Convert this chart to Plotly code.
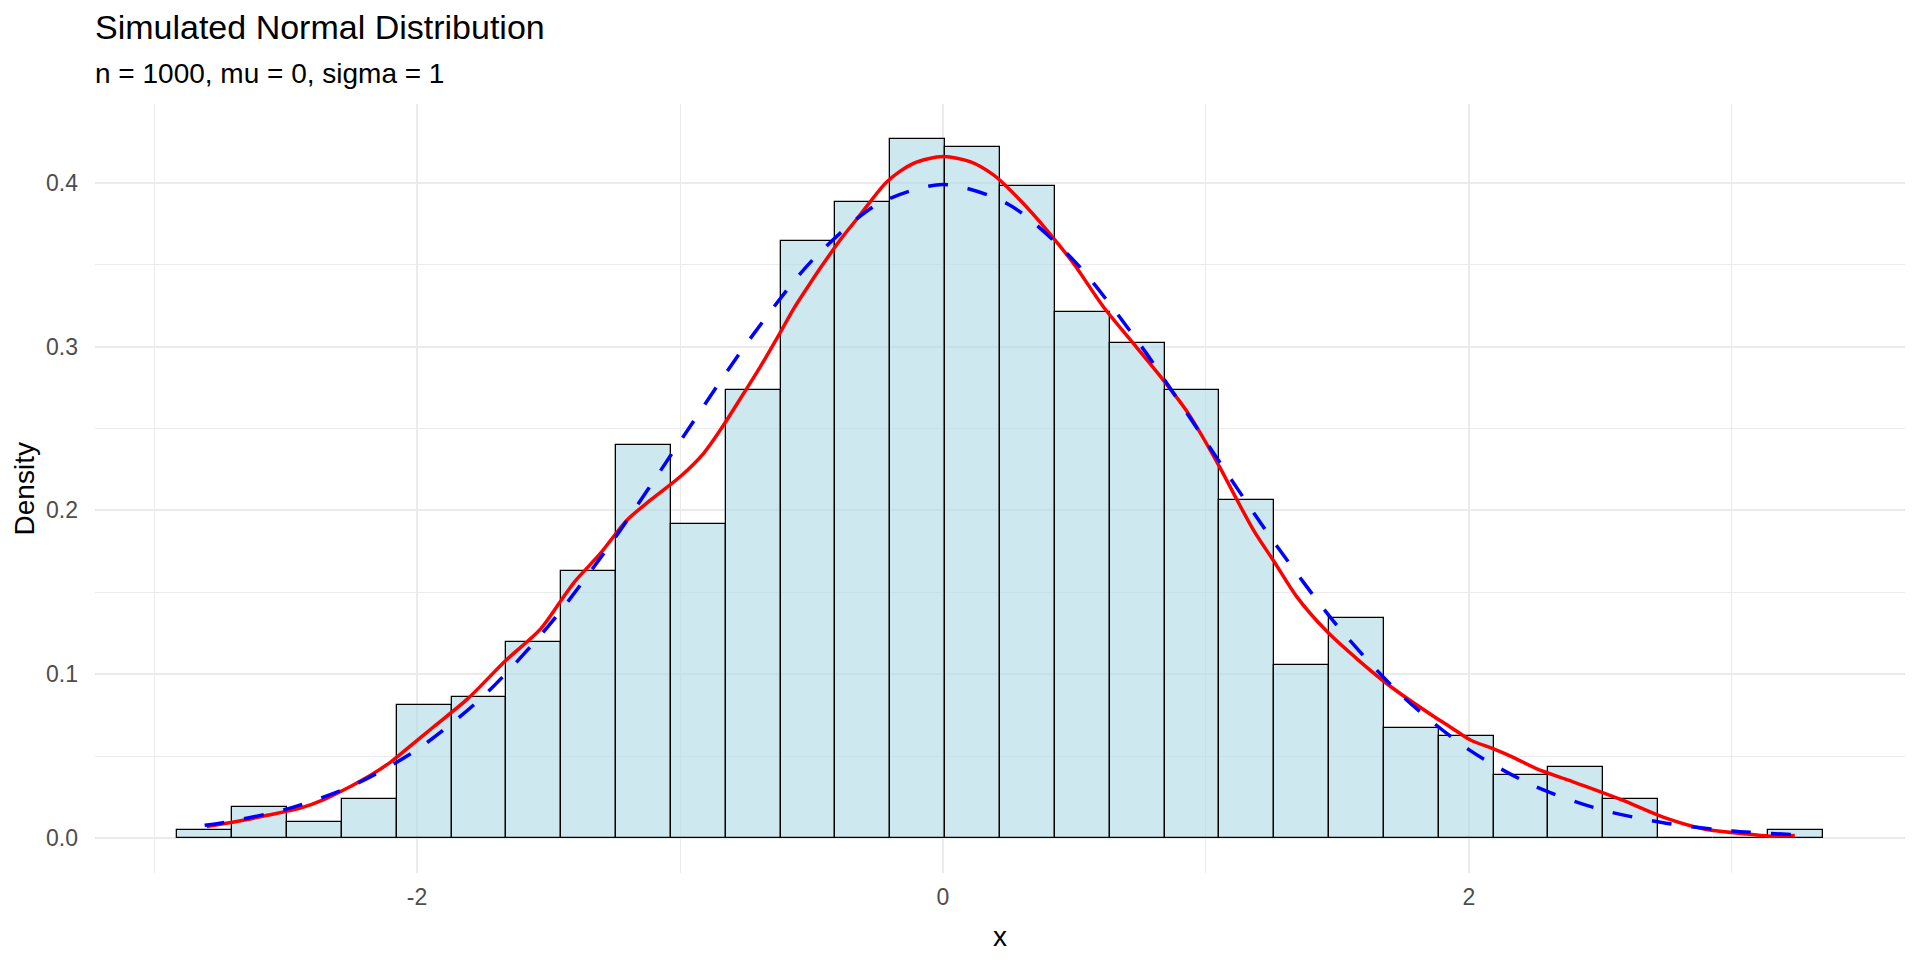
import numpy as np
import plotly.graph_objects as go

# histogram: 30 bins (ggplot default), counts (n = 1000)
n_obs = 1000
bin_left = -2.912
bin_width = 0.2086
counts = [1, 4, 2, 5, 17, 18, 25, 34, 50, 40,
          57, 76, 81, 89, 88, 83, 67, 63, 57, 43,
          22, 28, 14, 13, 8, 9, 5, 0, 0, 1]

# kernel density estimate (red)
kde_x = [-2.80, -2.697, -2.570, -2.444, -2.355, -2.25, -2.177, -2.101, -2.069, -1.938,
         -1.807, -1.662, -1.531, -1.444, -1.398, -1.303, -1.202, -1.113, -1.0, -0.911,
         -0.847, -0.758, -0.695, -0.619, -0.568, -0.505, -0.467, -0.391, -0.315, -0.213,
         -0.112, 0.002, 0.103, 0.192, 0.293, 0.395, 0.496, 0.610, 0.724, 0.838,
         0.933, 1.052, 1.119, 1.181, 1.264, 1.346, 1.456, 1.581, 1.705, 1.870,
         1.928, 2.008, 2.092, 2.173, 2.257, 2.376, 2.434, 2.587, 2.739, 2.891,
         3.043, 3.144, 3.24]
kde_y = [0.0071, 0.0098, 0.0139, 0.0183, 0.0235, 0.0318, 0.0383, 0.0464, 0.0505, 0.0678,
         0.0851, 0.1085, 0.1275, 0.1470, 0.1570, 0.1737, 0.1940, 0.2062, 0.2205, 0.2347,
         0.2490, 0.2714, 0.2876, 0.3085, 0.3230, 0.3386, 0.3477, 0.3650, 0.3803, 0.4006,
         0.4118, 0.4159, 0.4128, 0.4047, 0.3894, 0.3711, 0.3508, 0.3243, 0.3019, 0.2795,
         0.2592, 0.2266, 0.2062, 0.1880, 0.1676, 0.1472, 0.1268, 0.1085, 0.0922, 0.0739,
         0.0680, 0.0597, 0.0546, 0.0490, 0.0424, 0.0355, 0.0322, 0.0230, 0.0128, 0.0057,
         0.0027, 0.0012, 0.0016]

# theoretical normal density (blue dashed)
norm_x = [-2.808, -2.75, -2.5, -2.25, -2.0, -1.75, -1.5, -1.25, -1.0, -0.75, -0.5, -0.25, 0.0,
          0.25, 0.5, 0.75, 1.0, 1.25, 1.5, 1.75, 2.0, 2.25, 2.5, 2.75, 3.0, 3.241]
norm_y = [0.0078, 0.0091, 0.0175, 0.0317, 0.0540, 0.0863, 0.1295, 0.1827, 0.2420, 0.3011, 0.3521, 0.3867, 0.3989,
          0.3867, 0.3521, 0.3011, 0.2420, 0.1827, 0.1295, 0.0863, 0.0540, 0.0317, 0.0175, 0.0091, 0.0044, 0.0021]

x_ticks = [-2, 0, 2]
x_tick_labels = ["-2", "0", "2"]
y_ticks = [0.0, 0.1, 0.2, 0.3, 0.4]
y_tick_labels = ["0.0", "0.1", "0.2", "0.3", "0.4"]

centers = bin_left + bin_width * (np.arange(len(counts)) + 0.5)
density = np.array(counts) / (n_obs * bin_width)

FONT = "Liberation Sans, Arial, sans-serif"

fig = go.Figure()

fig.add_trace(go.Bar(
    x=centers,
    y=density,
    width=bin_width,
    marker=dict(color="rgba(173,216,230,0.6)", line=dict(color="black", width=1.3)),
    hoverinfo="skip",
))

fig.add_trace(go.Scatter(
    x=kde_x, y=kde_y,
    mode="lines",
    line=dict(color="red", width=3.5, shape="spline", smoothing=0.8),
))

fig.add_trace(go.Scatter(
    x=norm_x, y=norm_y,
    mode="lines",
    line=dict(color="blue", width=3.5, dash="20px,20px", shape="spline", smoothing=0.8),
))

# page body has an 8px margin, so the figure is sized to sit inside the window
fig.update_layout(
    width=1904,
    height=944,
    showlegend=False,
    plot_bgcolor="white",
    paper_bgcolor="white",
    margin=dict(l=87, r=7, t=96, b=79),
    bargap=0,
    font=dict(family=FONT, color="#4D4D4D"),
)

fig.update_xaxes(
    range=[-3.225, 3.659],
    tickvals=x_ticks,
    ticktext=x_tick_labels,
    tickfont=dict(size=23, color="#4D4D4D"),
    ticklabelstandoff=8,
    showgrid=True,
    gridcolor="#EBEBEB",
    gridwidth=2,
    zeroline=False,
    showline=False,
    minor=dict(tickvals=[-3, -1, 1, 3], showgrid=True, gridcolor="#EBEBEB", gridwidth=1.2),
)

fig.update_yaxes(
    range=[-0.0213, 0.448],
    tickvals=y_ticks,
    ticktext=y_tick_labels,
    tickfont=dict(size=23, color="#4D4D4D"),
    ticklabelstandoff=16,
    showgrid=True,
    gridcolor="#EBEBEB",
    gridwidth=2,
    zeroline=False,
    showline=False,
    minor=dict(tickvals=[0.05, 0.15, 0.25, 0.35], showgrid=True, gridcolor="#EBEBEB", gridwidth=1.2),
)

# titles placed like ggplot (aligned to the panel)
fig.add_annotation(text="Simulated Normal Distribution", xref="paper", yref="paper",
                   x=-0.001, y=1.1002, xanchor="left", yanchor="middle", showarrow=False,
                   font=dict(size=34, color="black", family=FONT))
fig.add_annotation(text="n = 1000, mu = 0, sigma = 1", xref="paper", yref="paper",
                   x=-0.001, y=1.0403, xanchor="left", yanchor="middle", showarrow=False,
                   font=dict(size=28, color="black", family=FONT))
fig.add_annotation(text="x", xref="paper", yref="paper",
                   x=0.5, y=-0.0828, xanchor="center", yanchor="middle", showarrow=False,
                   font=dict(size=28, color="black", family=FONT))
fig.add_annotation(text="Density", xref="paper", yref="paper",
                   x=-0.0387, y=0.5, xanchor="center", yanchor="middle", showarrow=False,
                   textangle=-90, font=dict(size=28, color="black", family=FONT))

fig.write_html("out.html")
